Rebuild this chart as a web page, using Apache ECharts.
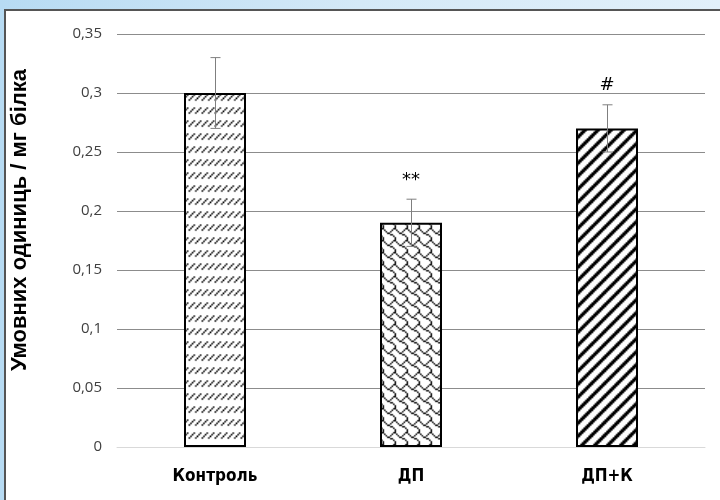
<!DOCTYPE html>
<html>
<head>
<meta charset="utf-8">
<script src="https://cdn.jsdelivr.net/npm/echarts@6/dist/echarts.min.js"></script>
<style>
  html, body { margin: 0; padding: 0; }
  body {
    width: 720px; height: 500px; overflow: hidden; position: relative;
    background: linear-gradient(to right, #b7dbf3 0%, #d4e9f7 50%, #e2f0fa 100%);
  }
  #panel {
    position: absolute; left: 4px; top: 9px; right: 0; bottom: 0;
    background: #ffffff;
    border-top: 2px solid #555555; border-left: 2px solid #555555;
  }
  #chart { position: absolute; left: 0; top: 0; width: 720px; height: 500px; }
</style>
</head>
<body>
<div id="panel"></div>
<div id="chart"></div>
<script>
// Groups, means and error half-widths
const categories = ['Контроль', 'ДП', 'ДП+К'];
const means = [0.30, 0.19, 0.27];
const errors = [0.03, 0.02, 0.02];
const marks = ['', '**', '#'];
const yTitle = 'Умовних одиниць / мг білка';

// 8x8 hatch bitmaps (MSB = leftmost pixel)
const hatchDashedUp = [0x00, 0x00, 0x11, 0x22, 0x44, 0x88, 0x00, 0x00];
const hatchShingle  = [0x03, 0x84, 0x48, 0x30, 0x0c, 0x02, 0x01, 0x01];
const hatchWideUp   = [0x83, 0x07, 0x0e, 0x1c, 0x38, 0x70, 0xe0, 0xc1];

// Build a smoothly enlarged repeating tile from a bitmap
function hatchFill(bits, size) {
  const src = document.createElement('canvas');
  src.width = 24; src.height = 24;
  const s = src.getContext('2d');
  s.fillStyle = '#ffffff';
  s.fillRect(0, 0, 24, 24);
  s.fillStyle = '#000000';
  for (let ty = 0; ty < 3; ty++) {
    for (let tx = 0; tx < 3; tx++) {
      for (let r = 0; r < 8; r++) {
        for (let c = 0; c < 8; c++) {
          if (bits[r] & (0x80 >> c)) s.fillRect(tx * 8 + c, ty * 8 + r, 1, 1);
        }
      }
    }
  }
  const out = document.createElement('canvas');
  out.width = size; out.height = size;
  const g = out.getContext('2d');
  g.imageSmoothingEnabled = true;
  g.drawImage(src, -size, -size, size * 3, size * 3);
  return { image: out, repeat: 'repeat' };
}

const fills = [
  hatchFill(hatchDashedUp, 13),
  hatchFill(hatchShingle, 12),
  hatchFill(hatchWideUp, 13)
];

const fmt = v => String(parseFloat(v.toFixed(2))).replace('.', ',');

const chart = echarts.init(document.getElementById('chart'), null, { renderer: 'canvas' });
chart.setOption({
  animation: false,
  backgroundColor: 'transparent',
  grid: { left: 117, right: 15, top: 34, bottom: 53, containLabel: false },
  graphic: [{
    // vertical axis title
    type: 'text',
    x: 20,
    y: 220,
    rotation: Math.PI / 2,
    style: {
      text: yTitle,
      textAlign: 'center',
      textVerticalAlign: 'middle',
      fill: '#000000',
      fontFamily: '"Liberation Sans", Arial, sans-serif',
      fontWeight: 'bold',
      fontSize: 22
    }
  }],
  xAxis: {
    type: 'category',
    data: categories,
    axisLine: { show: true, lineStyle: { color: '#d9d9d9', width: 1 } },
    axisTick: { show: false },
    axisLabel: {
      margin: 21,
      color: '#000000',
      fontFamily: '"DejaVu Sans Condensed", "Liberation Sans Narrow", sans-serif',
      fontWeight: 'bold',
      fontSize: 17
    }
  },
  yAxis: {
    type: 'value',
    min: 0, max: 0.35, interval: 0.05,
    axisLine: { show: false },
    axisTick: { show: false },
    splitLine: { lineStyle: { color: '#8c8c8c', width: 1 } },
    axisLabel: {
      margin: 15,
      color: '#404040',
      fontFamily: '"Open Sans", "Noto Sans", sans-serif',
      fontSize: 15,
      formatter: v => fmt(v)
    }
  },
  series: [
    {
      type: 'bar',
      barWidth: 62,
      data: means.map((v, i) => ({
        value: v,
        itemStyle: { color: fills[i], borderColor: '#000000', borderWidth: 2 }
      })),
      z: 2
    },
    {
      // error bars with caps
      type: 'custom',
      z: 5,
      data: means.map((m, i) => [i, m - errors[i], m + errors[i]]),
      renderItem: (params, api) => {
        const lo = api.coord([api.value(0), api.value(1)]);
        const hi = api.coord([api.value(0), api.value(2)]);
        const x = Math.round(lo[0]) + 0.5;
        const half = 5;
        const st = { stroke: '#7f7f7f', lineWidth: 1 };
        return {
          type: 'group',
          children: [
            { type: 'line', shape: { x1: x, y1: hi[1], x2: x, y2: lo[1] }, style: st },
            { type: 'line', shape: { x1: x - half, y1: hi[1], x2: x + half, y2: hi[1] }, style: st },
            { type: 'line', shape: { x1: x - half, y1: lo[1], x2: x + half, y2: lo[1] }, style: st }
          ]
        };
      }
    },
    {
      // significance marks above the error bars
      type: 'custom',
      z: 6,
      data: means.map((m, i) => [i, m + errors[i]]),
      renderItem: (params, api) => {
        const p = api.coord([api.value(0), api.value(1)]);
        return {
          type: 'text',
          x: p[0],
          y: p[1] - 10,
          style: {
            text: marks[params.dataIndex],
            textAlign: 'center',
            textVerticalAlign: 'bottom',
            fill: '#000000',
            fontFamily: '"DejaVu Sans", sans-serif',
            fontSize: 18
          }
        };
      }
    }
  ]
});
</script>
</body>
</html>
